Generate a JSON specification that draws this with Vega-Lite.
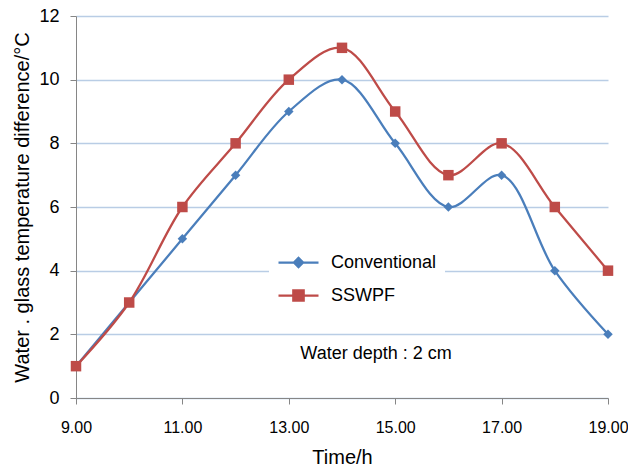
{
  "$schema": "https://vega.github.io/schema/vega-lite/v6.json",
  "width": 532,
  "height": 382,
  "autosize": {"type": "none"},
  "padding": {"left": 76, "top": 16, "right": 20, "bottom": 71},
  "background": "white",
  "config": {"view": {"stroke": null}, "font": "Liberation Sans"},
  "data": {"values": [
    {"t": 9, "v": 1, "s": "Conventional"},
    {"t": 10, "v": 3, "s": "Conventional"},
    {"t": 11, "v": 5, "s": "Conventional"},
    {"t": 12, "v": 7, "s": "Conventional"},
    {"t": 13, "v": 9, "s": "Conventional"},
    {"t": 14, "v": 10, "s": "Conventional"},
    {"t": 15, "v": 8, "s": "Conventional"},
    {"t": 16, "v": 6, "s": "Conventional"},
    {"t": 17, "v": 7, "s": "Conventional"},
    {"t": 18, "v": 4, "s": "Conventional"},
    {"t": 19, "v": 2, "s": "Conventional"},
    {"t": 9, "v": 1, "s": "SSWPF"},
    {"t": 10, "v": 3, "s": "SSWPF"},
    {"t": 11, "v": 6, "s": "SSWPF"},
    {"t": 12, "v": 8, "s": "SSWPF"},
    {"t": 13, "v": 10, "s": "SSWPF"},
    {"t": 14, "v": 11, "s": "SSWPF"},
    {"t": 15, "v": 9, "s": "SSWPF"},
    {"t": 16, "v": 7, "s": "SSWPF"},
    {"t": 17, "v": 8, "s": "SSWPF"},
    {"t": 18, "v": 6, "s": "SSWPF"},
    {"t": 19, "v": 4, "s": "SSWPF"}
  ]},
  "encoding": {
    "x": {"field": "t", "type": "quantitative",
      "scale": {"domain": [9, 19], "nice": false, "zero": false},
      "axis": {"values": [9, 11, 13, 15, 17, 19], "format": ".2f", "title": "Time/h", "grid": false,
        "domainColor": "#868686", "tickColor": "#868686", "tickSize": 6, "labelFontSize": 16,
        "titleFontSize": 20, "labelColor": "black", "titleColor": "black", "titleFontWeight": "normal",
        "labelPadding": 15, "titlePadding": 12, "labelFlush": false}},
    "y": {"field": "v", "type": "quantitative",
      "scale": {"domain": [0, 12], "nice": false},
      "axis": {"values": [0, 2, 4, 6, 8, 10, 12], "title": "Water . glass temperature difference/°C",
        "grid": true, "gridColor": "#b9cde5", "gridWidth": 1.5,
        "domainColor": "#868686", "tickColor": "#868686", "tickSize": 6, "labelFontSize": 18,
        "titleFontSize": 20, "labelColor": "black", "titleColor": "black", "titleFontWeight": "normal",
        "labelPadding": 11, "titlePadding": 6}},
    "color": {"field": "s", "type": "nominal",
      "scale": {"domain": ["Conventional", "SSWPF"], "range": ["#4a7ebb", "#be4b48"]},
      "legend": {"title": null, "orient": "none", "legendX": 193, "legendY": 217,
        "fillColor": "white", "padding": 8, "symbolSize": 1600, "symbolStrokeWidth": 2.25,
        "labelFontSize": 18, "labelColor": "black", "labelOffset": 11, "rowPadding": 2,
        "encode": {"symbols": {"update": {
          "shape": {"signal": "datum.value === 'Conventional' ? 'M-1,0H1M-0.23,0L0,-0.23L0.23,0L0,0.23Z' : 'M-1,0H1M-0.26,-0.26H0.26V0.26H-0.26Z'"},
          "size": {"value": 1600},
          "fill": {"scale": "color", "field": "value"},
          "stroke": {"scale": "color", "field": "value"},
          "strokeWidth": {"value": 2.25},
          "opacity": {"value": 1}
        }}}}}
  },
  "layer": [
    {"mark": {"type": "line", "interpolate": "catmull-rom", "strokeWidth": 2.25}},
    {"transform": [{"filter": "datum.s === 'Conventional'"}],
      "mark": {"type": "point", "filled": true, "opacity": 1, "shape": "diamond", "size": 90}},
    {"transform": [{"filter": "datum.s === 'SSWPF'"}],
      "mark": {"type": "point", "filled": true, "opacity": 1, "shape": "square", "size": 110}},
    {"data": {"values": [{"t": 14.64, "v": 1.38, "label": "Water depth : 2 cm"}]},
      "mark": {"type": "text", "fontSize": 18, "color": "black"},
      "encoding": {"text": {"field": "label"}, "color": {"value": "black"}}}
  ]
}
